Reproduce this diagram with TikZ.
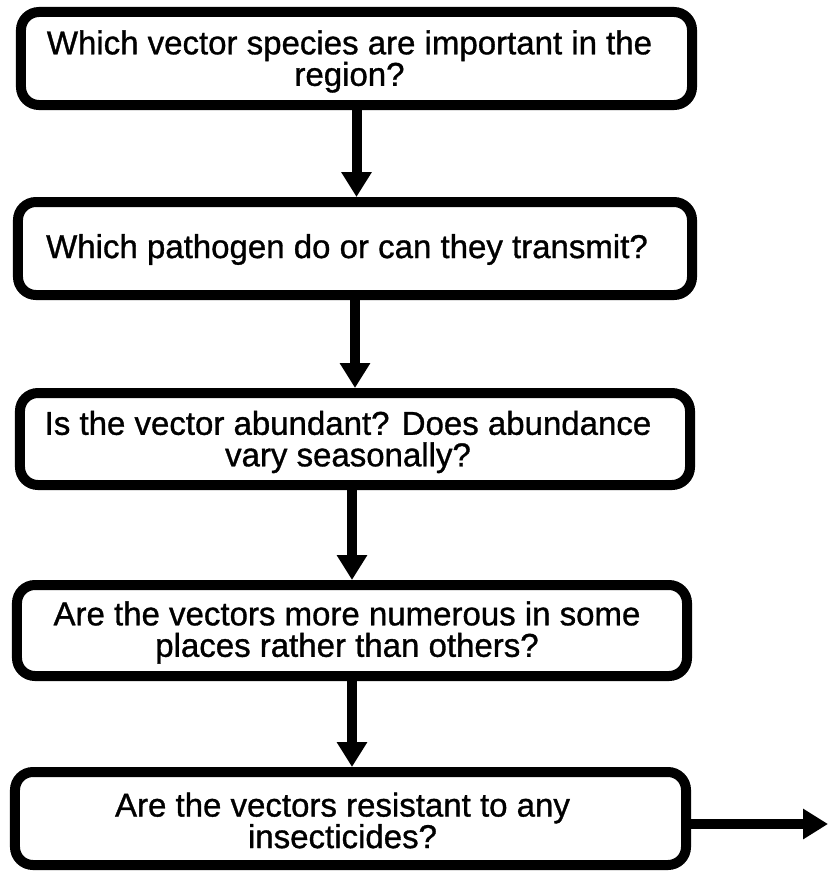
\documentclass[tikz,border=0pt]{standalone}
\usepackage{fontspec}
\setmainfont[FakeBold=1]{Liberation Sans}
\usetikzlibrary{arrows.meta}
\begin{document}
\begin{tikzpicture}[x=1bp,y=-1bp,
  qbox/.style={draw, line width=10bp, rounded corners=18bp, inner sep=0pt},
  qtext/.style={align=center, inner sep=0pt,
    font=\fontsize{33bp}{31.5bp}\selectfont},
  flow/.style={line width=10bp, -{Triangle[length=25bp,width=29bp]}}]
\useasboundingbox (0,0) rectangle (828,873);

% question boxes
\node[qbox, minimum width=671bp, minimum height=93bp] (b1) at (356.5,58.5) {};
\node[qbox, minimum width=674bp, minimum height=93bp] (b2) at (355,248.5) {};
\node[qbox, minimum width=670bp, minimum height=92bp] (b3) at (355,439) {};
\node[qbox, minimum width=670bp, minimum height=91bp] (b4) at (352,630.5) {};
\node[qbox, minimum width=671bp, minimum height=93bp] (b5) at (350.5,818.5) {};

% questions
\node[qtext] (t1) at ([xshift=-7bp,yshift=-3bp]b1.center)
  {Which vector species are important in the\\region?};
\node[qtext] (t2) at ([xshift=-8bp,yshift=-1bp]b2.center)
  {Which pathogen do or can they transmit?};
\node[qtext] (t3) at ([xshift=-7bp,yshift=-3bp]b3.center)
  {Is the vector abundant? Does abundance\\vary seasonally?};
\node[qtext] (t4) at ([xshift=-5bp,yshift=-2bp]b4.center)
  {Are the vectors more numerous in some\\places rather than others?};
\node[qtext] (t5) at ([xshift=-8bp,yshift=-2bp]b5.center)
  {Are the vectors resistant to any\\insecticides?};

% connectors
\coordinate (e) at (828,824);
\draw[flow] (b1.south) -- (b1.south |- b2.north);
\draw[flow] (b2.south) -- (b2.south |- b3.north);
\draw[flow] (b4.north |- b3.south) -- (b4.north);
\draw[flow] (b4.south) -- (b4.south |- b5.north);
\draw[flow] (b5.east |- e) -- (e);
\end{tikzpicture}
\end{document}
